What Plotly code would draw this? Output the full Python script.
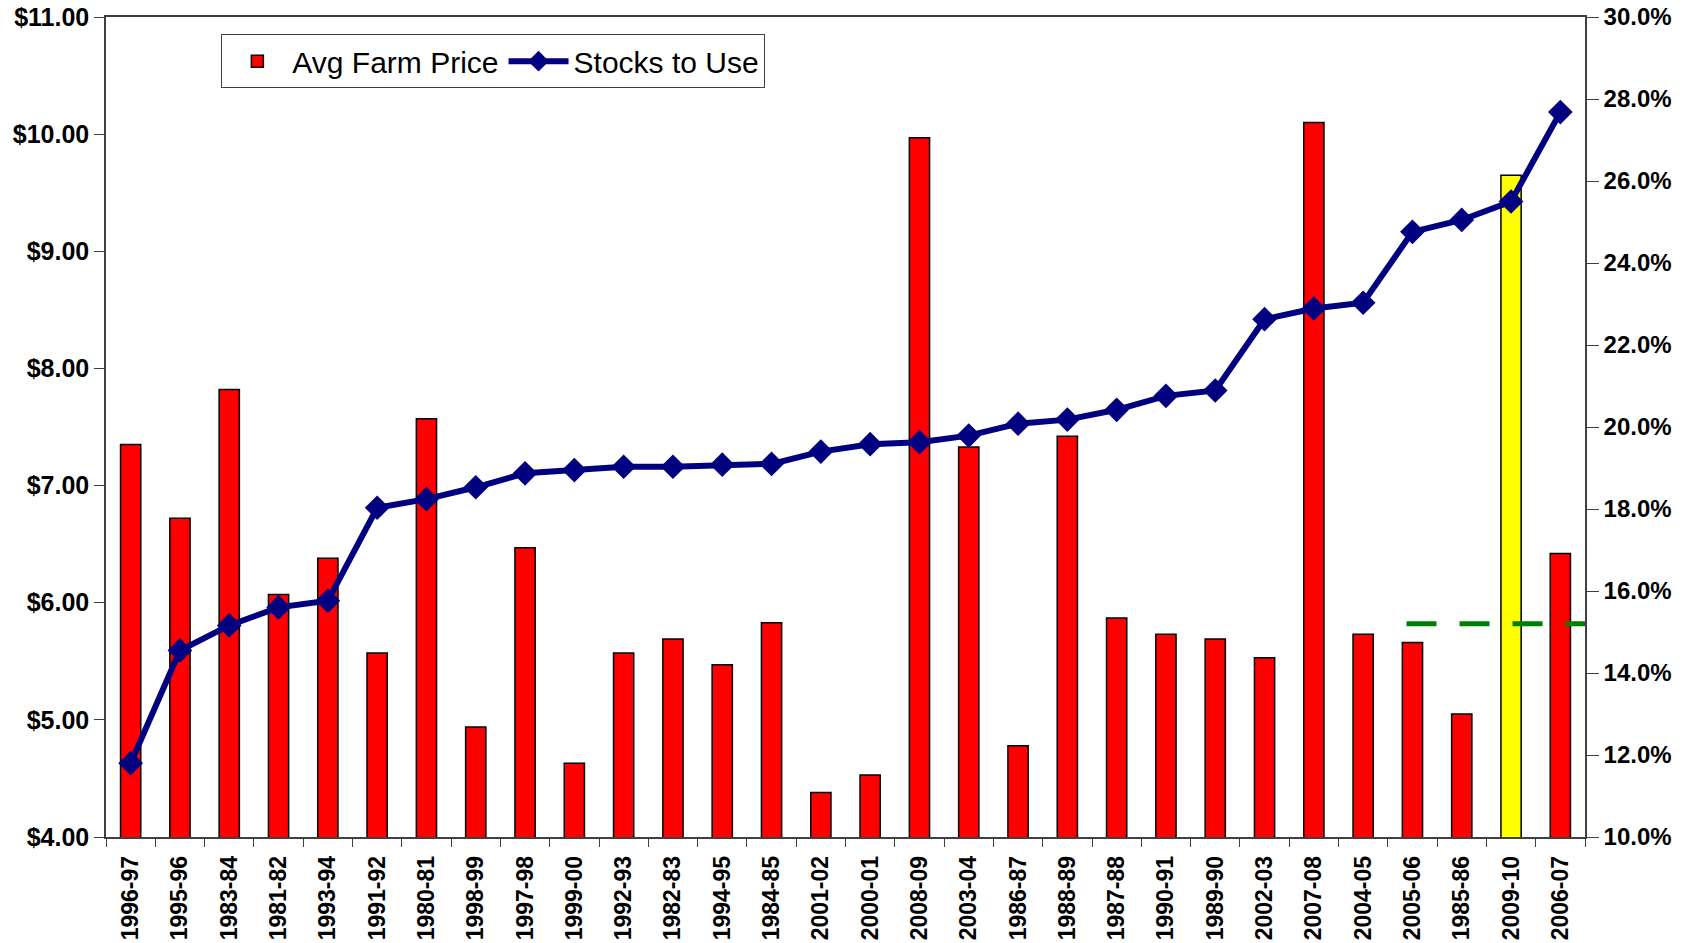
import plotly.graph_objects as go

# marketing years, sorted by stocks-to-use ratio
years = ['1996-97', '1995-96', '1983-84', '1981-82', '1993-94', '1991-92', '1980-81',
         '1998-99', '1997-98', '1999-00', '1992-93', '1982-83', '1994-95', '1984-85',
         '2001-02', '2000-01', '2008-09', '2003-04', '1986-87', '1988-89', '1987-88',
         '1990-91', '1989-90', '2002-03', '2007-08', '2004-05', '2005-06', '1985-86',
         '2009-10', '2006-07']

farm_price = [7.35, 6.72, 7.82, 6.07, 6.38, 5.57, 7.57, 4.94, 6.47, 4.63,
              5.57, 5.69, 5.47, 5.83, 4.38, 4.53, 9.97, 7.33, 4.78, 7.42,
              5.87, 5.73, 5.69, 5.53, 10.10, 5.73, 5.66, 5.05, 9.65, 6.42]

stocks_to_use = [11.8, 14.55, 15.16, 15.6, 15.76, 18.03, 18.24, 18.53, 18.87, 18.95,
                 19.03, 19.03, 19.08, 19.1, 19.4, 19.58, 19.63, 19.79, 20.08, 20.18,
                 20.42, 20.76, 20.89, 22.63, 22.89, 23.03, 24.76, 25.05, 25.5, 27.68]

highlight_year = '2009-10'
ref_start_year = '2005-06'
ref_level = 15.2  # stocks to use reference (%)

bar_colors = ['#FFFF00' if y == highlight_year else '#FF0000' for y in years]

fig = go.Figure()

fig.add_trace(go.Bar(
    x=years, y=farm_price, name='Avg Farm Price',
    marker=dict(color=bar_colors, line=dict(color='black', width=1.5)),
    width=0.41,
))

fig.add_trace(go.Scatter(
    x=years, y=stocks_to_use, name='Stocks to Use', yaxis='y2',
    mode='lines+markers',
    line=dict(color='#000080', width=6),
    marker=dict(symbol='diamond', size=19, color='#000080'),
))

# green dashed reference level
fig.add_shape(
    type='line', xref='x', yref='y2',
    x0=years.index(ref_start_year) - 0.12, x1=len(years) - 0.5,
    y0=ref_level, y1=ref_level,
    line=dict(color='#008000', width=5, dash='30px,23px'),
)

x_font = dict(family='Liberation Sans', size=23, color='black', weight='bold')
y_font = dict(family='Liberation Sans', size=25, color='black', weight='bold')
y2_font = dict(family='Liberation Sans', size=24, color='black', weight='bold')

fig.update_layout(
    width=1690, height=943, autosize=False,
    margin=dict(l=106, r=105, t=17, b=106, autoexpand=False),
    plot_bgcolor='white', paper_bgcolor='white',
    showlegend=True,
    legend=dict(
        orientation='h', x=0.078, y=0.979, xanchor='left', yanchor='top',
        font=dict(family='Liberation Sans', size=30, color='black'),
        bordercolor='#404040', borderwidth=1, bgcolor='white',
        itemwidth=60, tracegroupgap=0,
    ),
    xaxis=dict(
        type='category', tickangle=-90, tickfont=x_font, automargin=False,
        showline=True, linecolor='#404040', linewidth=1.5,
        mirror=True, ticklabeloverflow='allow',
        ticks='outside', ticklen=8, tickcolor='#404040',
        ticklabelstandoff=8,
        tickson='boundaries', showgrid=False,
        range=[-0.5, len(years) - 0.5],
    ),
    yaxis=dict(
        range=[4, 11], dtick=1, tickprefix='$', tickformat='.2f',
        tickfont=y_font, showgrid=False, zeroline=False, automargin=False,
        showline=True, linecolor='#404040', linewidth=1.5,
        ticks='outside', ticklen=10, tickcolor='#404040',
        ticklabeloverflow='allow',
    ),
    yaxis2=dict(
        range=[10, 30], dtick=2, ticksuffix='%', tickformat='.1f',
        overlaying='y', side='right', automargin=False,
        tickfont=y2_font, showgrid=False, zeroline=False,
        showline=True, linecolor='#404040', linewidth=1.5,
        ticks='outside', ticklen=12, tickcolor='#404040',
        ticklabeloverflow='allow',
    ),
)

# drop the default page margin so the figure fills the window
fig.write_html("out.html", config={'displayModeBar': False},
               post_script="document.body.style.margin='0';")
